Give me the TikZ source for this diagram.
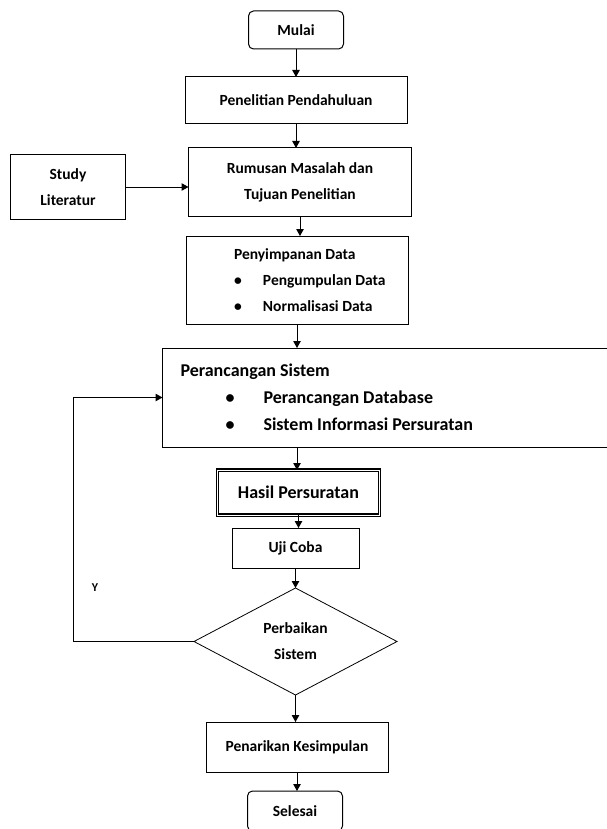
\documentclass[tikz,border=0pt]{standalone}
\usepackage{fontspec}
\setmainfont{Carlito}
\usetikzlibrary{arrows.meta,positioning,shapes.geometric}

\newcommand{\itm}[2][29pt]{\makebox[#1][l]{\textbullet}#2}

\begin{document}
\begin{tikzpicture}[x=1pt,y=1pt, every node/.style={font=\bfseries\fontsize{15.5}{26}\selectfont},
  box/.style={draw,line width=1pt,align=center,inner sep=2pt,outer sep=0pt},
  term/.style={box,rounded corners=5pt,minimum width=95pt,minimum height=38pt},
  arr/.style={line width=1pt,-{Triangle[length=7pt,width=7.5pt]}}]
\useasboundingbox (0,0) rectangle (607,-829);
\node[term] (mulai) at (296,-30) {Mulai};
\node[box,below=28pt of mulai,minimum width=222pt,minimum height=47pt] (pend) {Penelitian Pendahuluan};
\node[box,below=24pt of pend,xshift=4pt,minimum width=223pt,minimum height=68pt] (rum) {Rumusan Masalah dan\\Tujuan Penelitian};
\node[box,left=63pt of rum,yshift=-5pt,minimum width=115pt,minimum height=65pt] (lit) {Study\\Literatur};
\node[box,below=20pt of rum,xshift=-3pt,minimum width=222pt,minimum height=88pt,text width=214pt,align=flush left] (peny) {\hspace*{44pt}Penyimpanan Data\\\hspace*{44pt}\itm{Pengumpulan Data}\\\hspace*{44pt}\itm{Normalisasi Data}};
\node[box,below=24pt of peny,xshift=91pt,minimum height=99pt,text width=415pt,inner xsep=18pt,align=flush left,font=\bfseries\fontsize{18}{27}\selectfont] (pera) {Perancangan Sistem\\\hspace*{45pt}\itm[38pt]{Perancangan Database}\\\hspace*{45pt}\itm[38pt]{Sistem Informasi Persuratan}};
\coordinate (axis) at (peny.south |- pera.south);
\node[box,double,line width=1.1pt,double distance=1pt,below=23pt of axis,xshift=1.5pt,minimum width=162pt,minimum height=45pt,font=\bfseries\fontsize{18}{22}\selectfont] (hasil) {Hasil Persuratan};
\node[box,below=13pt of hasil,xshift=-3pt,minimum width=127pt,minimum height=40pt] (uji) {Uji Coba};
\node[box,diamond,line width=0.8pt,below=20pt of uji,minimum width=203pt,minimum height=107pt,inner sep=0pt] (diam) {Perbaikan\\Sistem};
\node[box,below=27pt of diam,xshift=1.5pt,minimum width=182pt,minimum height=50pt] (tarik) {Penarikan Kesimpulan};
\node[term,below=19pt of tarik,xshift=-2pt,minimum height=40pt] (selesai) {Selesai};
\foreach \a/\b in {mulai/pend,pend/rum,rum/peny,peny/pera,hasil/uji,uji/diam,diam/tarik,tarik/selesai}
  \draw[arr] (\a.south) -- (\a.south |- \b.north);
\draw[arr] (axis) -- (axis |- hasil.north);
\draw[arr] (lit.east) -- (lit.east -| rum.west);
\draw[arr] (diam.west) -- ++(-121,0) |- (pera.west) node[pos=0.11,right=15pt,font=\bfseries\fontsize{12}{14}\selectfont] (ya) {Y};
\end{tikzpicture}
\end{document}
